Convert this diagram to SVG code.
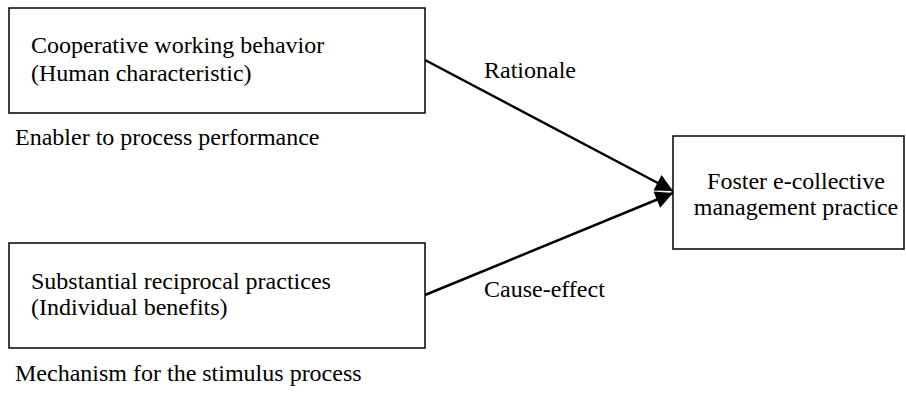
<svg xmlns="http://www.w3.org/2000/svg" width="906" height="398" viewBox="0 0 906 398">
<style>
.box{fill:#fff;stroke:#000;stroke-width:1.5}
.t{font-family:"Liberation Serif","Times New Roman",serif;font-size:24px;fill:#000}
.c{text-anchor:middle}
.edge{stroke:#000;stroke-width:2.5;fill:none}
</style>
<defs>
<marker id="ah" viewBox="0 0 10 10" refX="10" refY="5" markerWidth="10" markerHeight="7" markerUnits="strokeWidth" orient="auto">
<path d="M0,0 L10,5 L0,10 z" fill="#000"/>
</marker>
</defs>
<rect width="906" height="398" fill="#fff"/>
<g id="connectors">
<line class="edge" x1="425" y1="60" x2="673" y2="191" marker-end="url(#ah)"/>
<line class="edge" x1="425" y1="295" x2="673" y2="193" marker-end="url(#ah)"/>
<text class="t" x="484" y="78">Rationale</text>
<text class="t" x="484" y="297">Cause-effect</text>
</g>
<g id="node-cooperative">
<rect class="box" x="9" y="8" width="416" height="105"/>
<text class="t" x="31" y="53">Cooperative working behavior</text>
<text class="t" x="31" y="81">(Human characteristic)</text>
</g>
<g id="label-enabler">
<text class="t" x="15" y="145">Enabler to process performance</text>
</g>
<g id="node-substantial">
<rect class="box" x="9" y="243" width="416" height="105"/>
<text class="t" x="31" y="289">Substantial reciprocal practices</text>
<text class="t" x="31" y="315">(Individual benefits)</text>
</g>
<g id="label-mechanism">
<text class="t" x="15" y="381">Mechanism for the stimulus process</text>
</g>
<g id="node-foster">
<rect class="box" x="673" y="136" width="231" height="113"/>
<text class="t c" x="796" y="189">Foster e-collective</text>
<text class="t c" x="796" y="215">management practice</text>
</g>
</svg>
